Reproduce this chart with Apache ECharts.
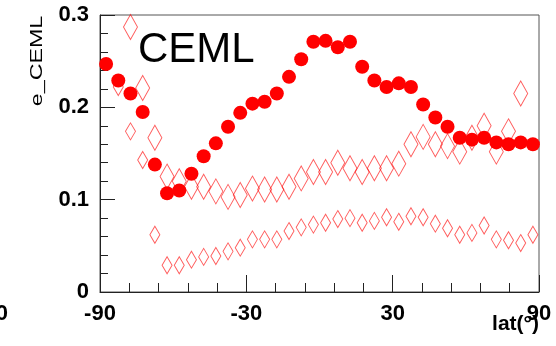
<!DOCTYPE html>
<html>
<head>
<meta charset="utf-8">
<script src="https://cdn.jsdelivr.net/npm/echarts@6/dist/echarts.min.js"></script>
<style>
  html, body { margin: 0; padding: 0; background: #fff; }
  #chart { width: 556px; height: 346px; }
</style>
</head>
<body>
<div id="chart"></div>
<script>
// Latitude bin centres (degrees)
const latitudes = [-87.5, -82.5, -77.5, -72.5, -67.5, -62.5, -57.5, -52.5, -47.5, -42.5,
                   -37.5, -32.5, -27.5, -22.5, -17.5, -12.5, -7.5, -2.5, 2.5, 7.5,
                   12.5, 17.5, 22.5, 27.5, 32.5, 37.5, 42.5, 47.5, 52.5, 57.5,
                   62.5, 67.5, 72.5, 77.5, 82.5, 87.5];

// e_CEML per latitude bin: filled circles
const ceml = [0.247, 0.229, 0.215, 0.195, 0.138, 0.107, 0.110, 0.128, 0.147, 0.161,
              0.179, 0.194, 0.204, 0.206, 0.215, 0.233, 0.252, 0.271, 0.272, 0.265,
              0.271, 0.244, 0.229, 0.222, 0.226, 0.222, 0.203, 0.189, 0.179, 0.167,
              0.165, 0.167, 0.162, 0.160, 0.162, 0.160];

// Large open diamonds
const cemlUpper = [null, null, 0.287, 0.221, 0.167, 0.125, 0.120, 0.114, 0.114, 0.109,
                   0.103, 0.105, 0.112, 0.111, 0.111, 0.114, 0.123, 0.130, 0.130, 0.140,
                   0.134, 0.130, 0.134, 0.134, 0.139, 0.160, 0.168, 0.160, 0.158, 0.152,
                   0.167, 0.180, 0.152, 0.174, 0.215, null];

// Small open diamonds
const cemlLower = [null, 0.222, 0.174, 0.143, 0.062, 0.029, 0.029, 0.035, 0.038, 0.039,
                   0.044, 0.048, 0.057, 0.057, 0.057, 0.066, 0.070, 0.073, 0.075, 0.079,
                   0.080, 0.075, 0.077, 0.081, 0.076, 0.082, 0.081, 0.074, 0.069, 0.062,
                   0.064, 0.072, 0.057, 0.056, 0.053, 0.062];

// Axis tick labels
const xTicks = [-90, -30, 30, 90];
const yTicks = [0, 0.1, 0.2, 0.3];

function pairs(values) {
  const out = [];
  values.forEach((v, i) => { if (v !== null) out.push([latitudes[i], v]); });
  return out;
}

const chart = echarts.init(document.getElementById('chart'), null, { renderer: 'canvas' });
const tickFont = { fontFamily: 'Liberation Sans, Arial, sans-serif', fontWeight: 'bold', fontSize: 22, color: '#000' };

chart.setOption({
  animation: false,
  backgroundColor: '#fff',
  grid: { left: 100, right: 17, top: 15, bottom: 54, show: true, borderColor: '#555', borderWidth: 1, backgroundColor: 'transparent' },
  xAxis: {
    type: 'value',
    min: xTicks[0], max: xTicks[xTicks.length - 1], interval: 60,
    axisLine: { show: true, onZero: false, lineStyle: { color: '#222', width: 1 } },
    axisTick: { show: true, inside: true, length: 17, lineStyle: { color: '#222' } },
    minorTick: { show: true, splitNumber: 5, length: 9, lineStyle: { color: '#222' } },
    splitLine: { show: false },
    axisLabel: Object.assign({ margin: 11, formatter: v => String(v) }, tickFont)
  },
  yAxis: {
    type: 'value',
    min: yTicks[0], max: yTicks[yTicks.length - 1], interval: 0.1,
    axisLine: { show: true, onZero: false, lineStyle: { color: '#222', width: 1 } },
    axisTick: { show: true, inside: true, length: 15, lineStyle: { color: '#222' } },
    minorTick: { show: true, splitNumber: 5, length: 8, lineStyle: { color: '#222' } },
    splitLine: { show: false },
    axisLabel: Object.assign({ margin: 11, formatter: v => String(Math.round(v * 10) / 10) }, tickFont)
  },
  series: [
    {
      type: 'scatter', name: 'lower', data: pairs(cemlLower), z: 2,
      symbol: 'diamond', symbolSize: [10, 17],
      itemStyle: { color: 'rgba(255,255,255,0)', borderColor: 'rgba(255,0,0,0.8)', borderWidth: 1 },
      emphasis: { disabled: true }
    },
    {
      type: 'scatter', name: 'upper', data: pairs(cemlUpper), z: 3,
      symbol: 'diamond', symbolSize: [14, 25],
      itemStyle: { color: 'rgba(255,255,255,0)', borderColor: 'rgba(255,0,0,0.8)', borderWidth: 1 },
      emphasis: { disabled: true }
    },
    {
      type: 'scatter', name: 'e_CEML', data: pairs(ceml), z: 4,
      symbol: 'circle', symbolSize: 14,
      itemStyle: { color: '#ff0000', opacity: 1 },
      emphasis: { disabled: true }
    }
  ],
  graphic: [
    {
      type: 'text', left: 138, top: 29, z: 10,
      style: { text: 'CEML', fontFamily: 'Liberation Sans, Arial, sans-serif', fontSize: 42, fill: '#000' }
    },
    {
      type: 'text', x: 38, y: 61, rotation: Math.PI / 2, scaleX: 1.45, z: 10,
      style: { text: 'e_CEML', fontFamily: 'Liberation Sans, Arial, sans-serif', fontSize: 16, fill: '#000',
               align: 'center', verticalAlign: 'middle' }
    },
    {
      type: 'text', x: 539, y: 314, z: 10,
      style: { text: 'lat(°)', fontFamily: 'Liberation Sans, Arial, sans-serif', fontWeight: 'bold', fontSize: 21, fill: '#000',
               align: 'right', verticalAlign: 'top' }
    },
    {
      type: 'text', x: 8, y: 303, z: 10,
      style: { text: '0', fontFamily: 'Liberation Sans, Arial, sans-serif', fontWeight: 'bold', fontSize: 22, fill: '#000',
               align: 'right', verticalAlign: 'top' }
    }
  ]
});
</script>
</body>
</html>
